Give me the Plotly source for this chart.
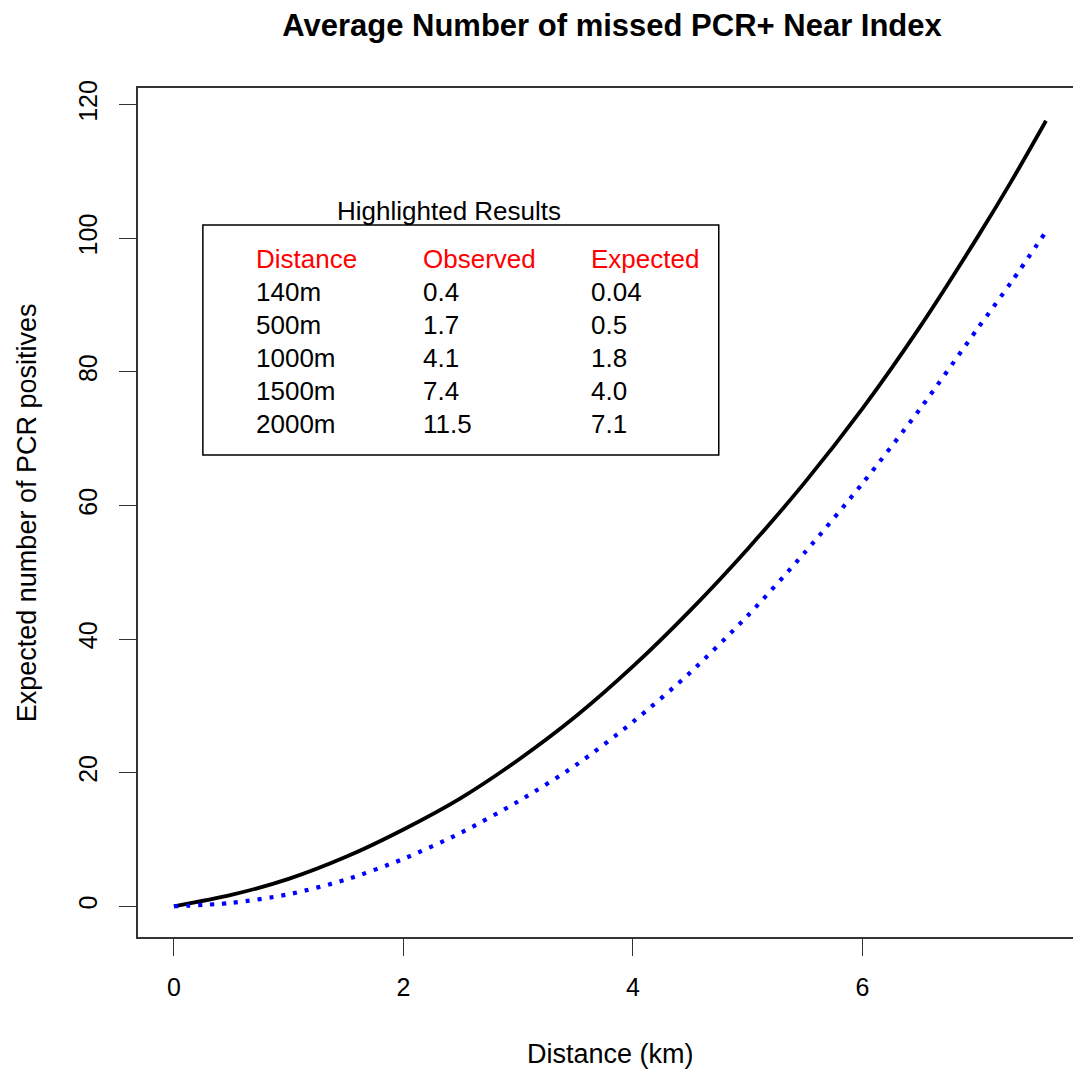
import plotly.graph_objects as go

# ---- data ----
dist_km = [0, 0.5, 1, 1.5, 2, 2.5, 3, 3.5, 4, 4.5, 5, 5.5, 6, 6.5, 7, 7.3, 7.6]
observed = [0, 1.7, 4.1, 7.4, 11.5, 16.2, 21.9, 28.4, 35.9, 44.3, 53.5, 63.5, 74.5, 86.7, 100.1, 108.6, 117.6]
expected = [0, 0.5, 1.8, 4.0, 7.1, 11.0, 15.7, 21.1, 27.6, 35.0, 43.5, 53.0, 63.3, 74.4, 86.4, 93.5, 101.0]

table_title = "Highlighted Results"
table_header = ["Distance", "Observed", "Expected"]
table_dist = ["140m", "500m", "1000m", "1500m", "2000m"]
table_obs = ["0.4", "1.7", "4.1", "7.4", "11.5"]
table_exp = ["0.04", "0.5", "1.8", "4.0", "7.1"]

x_ticks = [0, 2, 4, 6]
y_ticks = [0, 20, 40, 60, 80, 100, 120]

# ---- layout geometry (reference pixels; page body has an 8px margin) ----
OFF = 8
W, H = 1081 - OFF, 1074 - OFF
L, R, T, B = 138, 1079, 88, 937
FONT = "Liberation Sans, Arial, sans-serif"


def px(x):
    return (x - L) / (R - L)


def py(y):
    return (B - y) / (B - T)


fig = go.Figure()
fig.add_trace(go.Scatter(x=dist_km, y=observed, mode="lines",
                         line=dict(color="black", width=3.8, shape="spline", smoothing=0.8), showlegend=False))
fig.add_trace(go.Scatter(x=dist_km, y=expected, mode="lines",
                         line=dict(color="#0000ff", width=4.2, dash="4px,8px", shape="spline", smoothing=0.8),
                         showlegend=False))

annotations = []
annotations.append(dict(x=px(450), y=py(211), xref="paper", yref="paper", text=table_title, showarrow=False,
                        xanchor="center", yanchor="middle", font=dict(family=FONT, size=26, color="black")))
col_x = [254, 422, 590]
for cx, h in zip(col_x, table_header):
    annotations.append(dict(x=px(cx), y=py(259), xref="paper", yref="paper", text=h, showarrow=False,
                            xanchor="left", yanchor="middle", font=dict(family=FONT, size=26, color="red")))
for i in range(len(table_dist)):
    yy = 292 + i * 33
    for cx, txt in zip(col_x, [table_dist[i], table_obs[i], table_exp[i]]):
        annotations.append(dict(x=px(cx), y=py(yy), xref="paper", yref="paper", text=txt, showarrow=False,
                                xanchor="left", yanchor="middle", font=dict(family=FONT, size=26, color="black")))
annotations.append(dict(x=px(612), y=py(1054), xref="paper", yref="paper", text="Distance (km)", showarrow=False,
                        xanchor="center", yanchor="middle", font=dict(family=FONT, size=27, color="black")))
annotations.append(dict(x=px(27), y=py(513), xref="paper", yref="paper", text="Expected number of PCR positives",
                        showarrow=False, textangle=-90, xanchor="center", yanchor="middle",
                        font=dict(family=FONT, size=27, color="black")))

shapes = [dict(type="rect", xref="paper", yref="paper", x0=px(203), x1=px(720), y0=py(455), y1=py(225),
               line=dict(color="black", width=1.5), fillcolor="rgba(0,0,0,0)")]

fig.update_layout(
    width=W, height=H,
    margin=dict(l=L - OFF, r=W - (R - OFF), t=T - OFF, b=H - (B - OFF), pad=0),
    paper_bgcolor="white", plot_bgcolor="white",
    font=dict(family=FONT, size=25, color="black"),
    title=dict(text="<b>Average Number of missed PCR+ Near Index</b>", x=(612 - OFF) / W, xanchor="center",
               y=1 - (25 - OFF) / H, yanchor="middle", xref="paper" if False else "container",
               font=dict(family=FONT, size=31, color="black")),
    annotations=annotations, shapes=shapes,
    xaxis=dict(range=[-0.313, 7.87], tickvals=x_ticks, ticks="outside", ticklen=17, tickwidth=1.2,
               tickcolor="#333", showline=True, linecolor="#333", linewidth=1.5, mirror=True,
               showgrid=False, zeroline=False, ticklabelstandoff=10, tickfont=dict(size=25)),
    yaxis=dict(range=[-4.6, 122.5], tickvals=y_ticks, ticks="outside", ticklen=17, tickwidth=1.2,
               tickcolor="#333", showline=True, linecolor="#333", linewidth=1.5, mirror=True,
               showgrid=False, zeroline=False, tickangle=-90, ticklabelstandoff=12, tickfont=dict(size=25)),
)

fig.write_html("out.html")
